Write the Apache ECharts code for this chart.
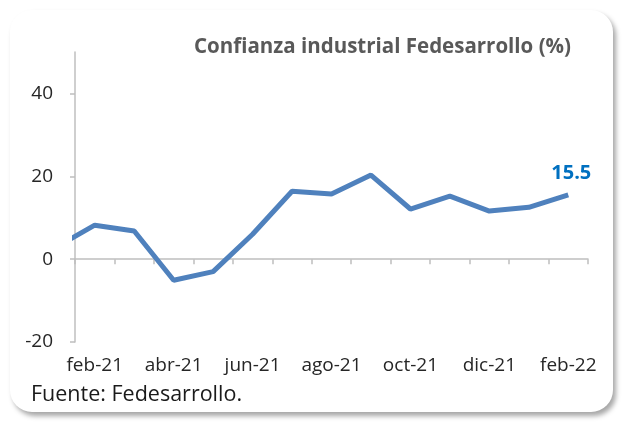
<!DOCTYPE html>
<html>
<head>
<meta charset="utf-8">
<script src="https://cdn.jsdelivr.net/npm/echarts@6/dist/echarts.min.js"></script>
<style>
  html, body { margin: 0; padding: 0; background: #ffffff; }
  #card {
    position: absolute; left: 10px; top: 10px; width: 603px; height: 402px;
    background: #ffffff; border-radius: 22px;
    box-shadow: 3px 4px 5px rgba(0, 0, 0, 0.35);
  }
  #chart { position: absolute; left: 0; top: 0; width: 623px; height: 423px; }
</style>
</head>
<body>
<div id="card"></div>
<div id="chart"></div>
<script>
// monthly index, first month sits left of the y axis and gets clipped
const months = ["ene-21", "feb-21", "mar-21", "abr-21", "may-21", "jun-21", "jul-21",
  "ago-21", "sep-21", "oct-21", "nov-21", "dic-21", "ene-22", "feb-22"];
const confianza = [2.8, 8.2, 6.8, -5.1, -3.0, 6.0, 16.4, 15.7, 20.3, 12.1, 15.2, 11.6, 12.5, 15.5];
const yTickLabels = [-20, 0, 20, 40];
const xLabelMonths = ["feb-21", "abr-21", "jun-21", "ago-21", "oct-21", "dic-21", "feb-22"];

const fontFamily = "'Open Sans', 'Noto Sans', sans-serif";
const axisGrey = "#bfbfbf";

const chart = echarts.init(document.getElementById("chart"), null, { renderer: "canvas" });

const lastIndex = confianza.length - 1;
const seriesData = confianza.map((v, i) => {
  if (i === lastIndex) {
    return {
      value: [i, v],
      label: {
        show: true,
        position: "top",
        distance: 12,
        offset: [3, 0],
        formatter: (p) => p.value[1].toFixed(1),
        color: "#0070c0",
        fontWeight: "bold",
        fontSize: 20,
        fontFamily: fontFamily,
      },
    };
  }
  return [i, v];
});

const option = {
  backgroundColor: "transparent",
  animation: false,
  title: {
    text: "Confianza industrial Fedesarrollo (%)",
    left: 189,
    top: 32,
    textStyle: { color: "#595959", fontSize: 20.5, fontWeight: "bold", fontFamily: fontFamily },
  },
  graphic: [
    {
      type: "text",
      left: 31,
      top: 384,
      style: { text: "Fuente: Fedesarrollo.", fill: "#1a1a1a", fontSize: 21.5, fontFamily: fontFamily },
    },
  ],
  grid: { left: 75, right: 35, top: 52, bottom: 81, containLabel: false },
  xAxis: [
    {
      type: "value",
      min: 0.5,
      max: months.length - 0.5,
      axisLine: { show: true, onZero: true, lineStyle: { color: axisGrey, width: 1.5 } },
      axisTick: {
        show: true,
        length: 5,
        customValues: months.map((m, i) => i + 0.5),
        lineStyle: { color: axisGrey, width: 1.5 },
      },
      axisLabel: { show: false },
      splitLine: { show: false },
    },
    {
      type: "value",
      min: 0.5,
      max: months.length - 0.5,
      position: "bottom",
      axisLine: { show: false, onZero: false },
      axisTick: { show: false },
      axisLabel: {
        show: true,
        margin: 14,
        customValues: xLabelMonths.map((m) => months.indexOf(m)),
        formatter: (v) => months[Math.round(v)],
        color: "#262626",
        fontSize: 19,
        fontFamily: fontFamily,
      },
      splitLine: { show: false },
    },
  ],
  yAxis: {
    type: "value",
    min: -20,
    max: 50,
    axisLine: { show: true, lineStyle: { color: axisGrey, width: 1.5 } },
    axisTick: { show: true, length: 5, customValues: yTickLabels, lineStyle: { color: axisGrey, width: 1.5 } },
    axisLabel: {
      customValues: yTickLabels,
      margin: 22,
      color: "#262626",
      fontSize: 19,
      fontFamily: fontFamily,
    },
    splitLine: { show: false },
  },
  series: [
    {
      type: "line",
      xAxisIndex: 0,
      data: seriesData,
      showSymbol: true,
      symbolSize: 0,
      clip: true,
      lineStyle: { color: "#4f81bd", width: 5 },
      itemStyle: { color: "#4f81bd" },
    },
  ],
};

chart.setOption(option);
</script>
</body>
</html>
